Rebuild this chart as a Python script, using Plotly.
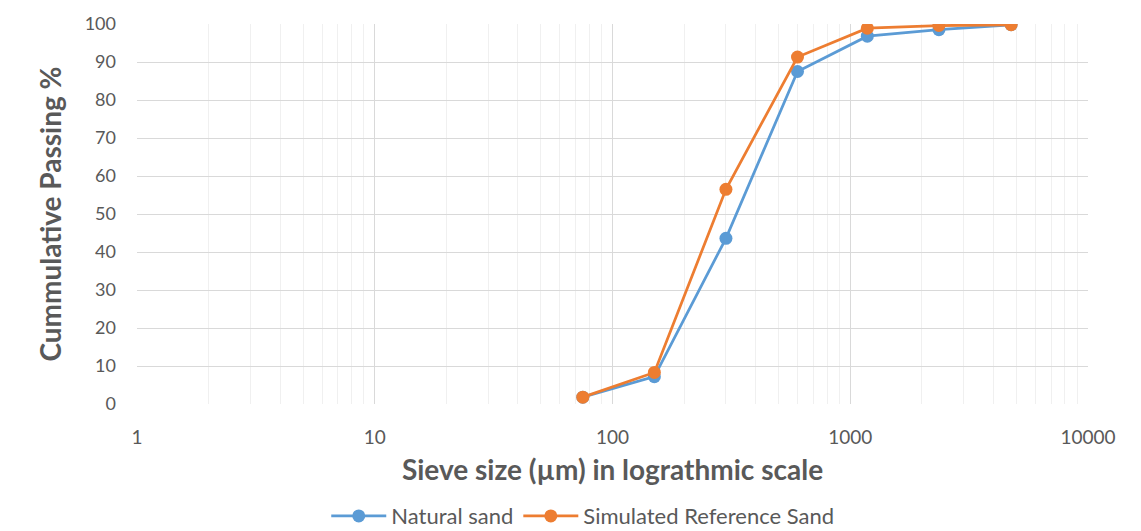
import plotly.graph_objects as go

# Sieve sizes (µm) and cumulative passing (%)
sieve_sizes = [75, 150, 300, 600, 1180, 2360, 4750]
natural_sand = [1.8, 7.2, 43.6, 87.5, 96.8, 98.5, 99.8]
simulated_reference_sand = [1.8, 8.3, 56.5, 91.3, 98.9, 99.6, 99.8]

x_tick_vals = [1, 10, 100, 1000, 10000]
x_tick_text = ["1", "10", "100", "1000", "10000"]
y_tick_vals = [0, 10, 20, 30, 40, 50, 60, 70, 80, 90, 100]

BLUE = "#5B9BD5"
ORANGE = "#ED7D31"
TEXT = "#595959"
FONT = "Lato"

fig = go.Figure()
fig.add_trace(go.Scatter(
    x=sieve_sizes, y=natural_sand, name="Natural sand",
    mode="lines+markers",
    line=dict(color=BLUE, width=2.75),
    marker=dict(color=BLUE, size=13),
))
fig.add_trace(go.Scatter(
    x=sieve_sizes, y=simulated_reference_sand, name="Simulated Reference Sand",
    mode="lines+markers",
    line=dict(color=ORANGE, width=2.75),
    marker=dict(color=ORANGE, size=13),
))

fig.update_layout(
    width=1141, height=531,
    margin=dict(l=137, r=53, t=24, b=127, autoexpand=False),
    paper_bgcolor="white", plot_bgcolor="white",
    font=dict(family=FONT, color=TEXT, size=19),
    legend=dict(
        orientation="h", x=0.199, xanchor="left", y=-0.295, yanchor="middle",
        font=dict(family=FONT, size=22, color=TEXT),
        itemwidth=55, tracegroupgap=0,
    ),
    showlegend=True,
)

fig.update_xaxes(
    type="log", range=[0, 4],
    tickvals=x_tick_vals, ticktext=x_tick_text,
    showgrid=True, gridcolor="#D9D9D9", gridwidth=1,
    minor=dict(dtick="D1", showgrid=True, gridcolor="#F0F0F0", gridwidth=1, ticks=""),
    zeroline=False, showline=False, ticks="",
    ticklabelstandoff=20, automargin=False,
    tickfont=dict(family=FONT, size=19, color=TEXT),
    title=dict(text="<b>Sieve size (µm) in lograthmic scale</b>",
               font=dict(family=FONT, size=28, color=TEXT), standoff=13),
)
fig.update_yaxes(
    range=[0, 100], tickvals=y_tick_vals,
    showgrid=True, gridcolor="#D9D9D9", gridwidth=1,
    zeroline=False, showline=False, ticks="",
    ticklabelstandoff=20, automargin=False,
    tickfont=dict(family=FONT, size=18, color=TEXT),
    title=dict(text="<b>Cummulative Passing %</b>",
               font=dict(family=FONT, size=28, color=TEXT), standoff=14),
)

fig.write_html("out.html")
